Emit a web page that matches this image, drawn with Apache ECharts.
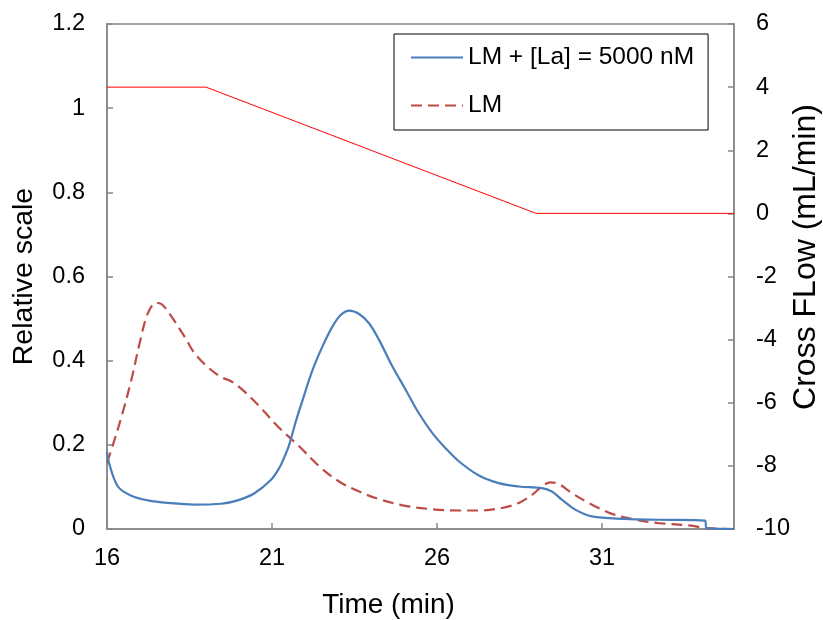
<!DOCTYPE html>
<html>
<head>
<meta charset="utf-8">
<script src="https://cdn.jsdelivr.net/npm/echarts@6/dist/echarts.min.js"></script>
<style>
  html, body { margin: 0; padding: 0; background: #fff; }
  #chart { width: 823px; height: 620px; }
</style>
</head>
<body>
<div id="chart"></div>
<script>
// Elution signal with lanthanum added
const lmLaTime = [16.0, 16.05, 16.33, 16.74, 17.24, 17.84, 18.65, 19.46, 19.96, 20.47, 20.97, 21.22, 21.37, 21.52, 21.72, 21.93, 22.23, 22.53, 22.83, 23.09, 23.34, 23.64, 23.94, 24.24, 24.65, 25.05, 25.45, 25.86, 26.26, 26.66, 27.27, 27.87, 28.48, 29.18, 29.48, 29.78, 30.19, 30.69, 31.70, 32.71, 34.12, 34.17, 35.0];
const lmLaSignal = [0.184, 0.160, 0.101, 0.079, 0.068, 0.062, 0.058, 0.060, 0.068, 0.085, 0.117, 0.145, 0.170, 0.200, 0.255, 0.307, 0.378, 0.434, 0.481, 0.509, 0.519, 0.511, 0.489, 0.450, 0.386, 0.331, 0.275, 0.228, 0.192, 0.161, 0.127, 0.109, 0.101, 0.097, 0.089, 0.070, 0.046, 0.030, 0.024, 0.022, 0.020, 0.002, 0.0];

// Elution signal, LM alone
const lmTime = [16.0, 16.18, 16.44, 16.74, 16.99, 17.24, 17.49, 17.64, 17.95, 18.35, 18.65, 19.05, 19.46, 19.76, 20.16, 20.67, 21.17, 21.83, 22.43, 23.03, 23.64, 24.24, 25.05, 25.86, 26.66, 27.27, 27.97, 28.48, 28.88, 29.18, 29.43, 29.69, 30.09, 30.69, 31.30, 31.90, 32.71, 33.72, 34.12, 35.0];
const lmSignal = [0.157, 0.200, 0.267, 0.355, 0.442, 0.513, 0.537, 0.535, 0.505, 0.457, 0.418, 0.385, 0.361, 0.351, 0.327, 0.287, 0.244, 0.196, 0.149, 0.113, 0.089, 0.071, 0.055, 0.047, 0.044, 0.044, 0.050, 0.062, 0.081, 0.101, 0.111, 0.107, 0.085, 0.058, 0.036, 0.024, 0.014, 0.008, 0.002, 0.0];

// Cross-flow program
const flowTime = [16, 19, 29, 35];
const flowRate = [4, 4, 0, 0];

// Axis ticks
const timeTicks = [16, 21, 26, 31];

const seriesLmLa = 'LM + [La] = 5000 nM';
const seriesLm = 'LM';

const pairs = (xs, ys) => xs.map((x, i) => [x, ys[i]]);

const axisGray = '#868686';
const font = 'Liberation Sans, Arial, sans-serif';

const chart = echarts.init(document.getElementById('chart'), null, { renderer: 'canvas' });

chart.setOption({
  animation: false,
  backgroundColor: '#fff',
  textStyle: { fontFamily: font, color: '#000' },
  grid: {
    left: 107, right: 89, top: 24, bottom: 91,
    outerBoundsMode: 'none',
    containLabel: false,
    show: true, borderColor: axisGray, borderWidth: 1.5, backgroundColor: 'transparent'
  },
  legend: {
    data: [seriesLmLa, seriesLm],
    orient: 'vertical',
    left: 394, top: 34,
    padding: [11, 14, 12, 16],
    borderColor: '#000', borderWidth: 1,
    backgroundColor: '#fff',
    itemWidth: 52, itemHeight: 14, itemGap: 23,
    itemStyle: { color: 'rgba(0,0,0,0)', borderWidth: 0, opacity: 0 },
    textStyle: { fontFamily: font, fontSize: 24.5, color: '#000', lineHeight: 24 }
  },
  xAxis: {
    type: 'value',
    min: 16, max: 35,
    name: 'Time (min)',
    nameLocation: 'middle',
    nameGap: 62,
    nameTextStyle: { fontFamily: font, fontSize: 28, color: '#000', padding: [0, 64, 0, 0] },
    axisLine: { onZero: false, lineStyle: { color: axisGray, width: 1.5 } },
    axisTick: { inside: true, length: 6, customValues: timeTicks, lineStyle: { color: axisGray, width: 1.5 } },
    axisLabel: { customValues: timeTicks, margin: 18, fontFamily: font, fontSize: 23.5, color: '#000' },
    splitLine: { show: false }
  },
  yAxis: [
    {
      type: 'value',
      min: 0, max: 1.2, interval: 0.2,
      name: 'Relative scale',
      nameLocation: 'middle',
      nameRotate: 90,
      nameGap: 68,
      nameTextStyle: { fontFamily: font, fontSize: 28.5, color: '#000' },
      axisLine: { show: true, lineStyle: { color: axisGray, width: 1.5 } },
      axisTick: { show: true, inside: true, length: 6, lineStyle: { color: axisGray, width: 1.5 } },
      axisLabel: { margin: 22, fontFamily: font, fontSize: 23.5, color: '#000' },
      splitLine: { show: false }
    },
    {
      type: 'value',
      position: 'right',
      min: -10, max: 6, interval: 2,
      axisLine: { show: true, lineStyle: { color: axisGray, width: 1.5 } },
      axisTick: { show: true, inside: true, length: 6, lineStyle: { color: axisGray, width: 1.5 } },
      axisLabel: { margin: 22, fontFamily: font, fontSize: 23.5, color: '#000' },
      splitLine: { show: false }
    }
  ],
  graphic: [
    {
      type: 'text',
      x: 806, y: 257,
      rotation: Math.PI / 2,
      style: {
        text: 'Cross FLow (mL/min)',
        fontFamily: font, fontSize: 32, fill: '#000',
        align: 'center', verticalAlign: 'middle'
      }
    }
  ],
  series: [
    {
      name: 'Cross flow',
      type: 'line',
      yAxisIndex: 1,
      data: pairs(flowTime, flowRate),
      showSymbol: false, symbol: 'none',
      lineStyle: { color: '#FF0000', width: 1 },
      itemStyle: { color: '#FF0000' },
      z: 1
    },
    {
      name: seriesLm,
      type: 'line',
      yAxisIndex: 0,
      data: pairs(lmTime, lmSignal),
      showSymbol: false, symbol: 'none',
      smooth: 0.35,
      lineStyle: { color: '#BE4B48', width: 2.2, type: [11, 6] },
      itemStyle: { color: '#BE4B48' },
      z: 2
    },
    {
      name: seriesLmLa,
      type: 'line',
      yAxisIndex: 0,
      data: pairs(lmLaTime, lmLaSignal),
      showSymbol: false, symbol: 'none',
      smooth: 0.35,
      lineStyle: { color: '#4A7EBB', width: 2.2 },
      itemStyle: { color: '#4A7EBB' },
      z: 3
    }
  ]
});
</script>
</body>
</html>
